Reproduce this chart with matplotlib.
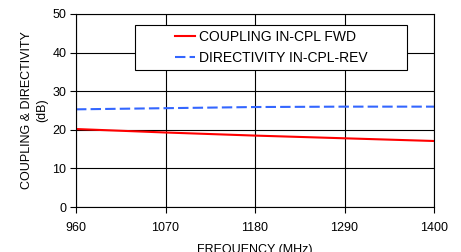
import matplotlib
matplotlib.use('Agg')
import matplotlib.pyplot as plt
from matplotlib.patches import Rectangle

plt.rcParams['font.family'] = ['Liberation Sans', 'DejaVu Sans']

freq = [960, 1070, 1180, 1290, 1400]
coupling = [20.2, 19.3, 18.5, 17.8, 17.1]
directivity = [25.3, 25.6, 25.9, 26.0, 26.0]

fig = plt.figure(figsize=(4.61, 2.52), dpi=100)
ax = fig.add_axes([76/461, 1 - 207/252, (434 - 76)/461, (207 - 14)/252])

ax.plot(freq, coupling, color='#ff0000', lw=1.5, label='COUPLING IN-CPL FWD')
ax.plot(freq, directivity, color='#3366ff', lw=1.5, ls=(0, (5, 2)),
        label='DIRECTIVITY IN-CPL-REV')

ax.set_xlim(960, 1400)
ax.set_ylim(0, 50)
ax.set_xticks(freq)
ax.set_yticks(range(0, 51, 10))
ax.grid(True, color='black', lw=0.8)
for s in ax.spines.values():
    s.set_linewidth(0.8)
ax.tick_params(direction='out', length=4, width=0.8, labelsize=9)
ax.tick_params(axis='x', pad=7)
ax.tick_params(axis='y', pad=3)

ax.set_xlabel('FREQUENCY (MHz)', fontsize=9, labelpad=7)
ax.set_ylabel('COUPLING & DIRECTIVITY\n(dB)', fontsize=9, labelpad=3, linespacing=1.4)

# legend box (content centred inside)
x0, x1 = (135 - 76)/358, (407 - 76)/358
y0, y1 = 1 - (70 - 14)/193, 1 - (25 - 14)/193
ax.add_patch(Rectangle((x0, y0), x1 - x0, y1 - y0, transform=ax.transAxes,
                       facecolor='white', edgecolor='black', lw=0.8, zorder=4))
leg = ax.legend(loc='center', bbox_to_anchor=((x0 + x1)/2, (y0 + y1)/2),
                fontsize=10, frameon=False, handlelength=1.5,
                labelspacing=0.55, handletextpad=0.25, borderpad=0, borderaxespad=0)
leg.set_zorder(5)

fig.savefig('out.png', dpi=100)
